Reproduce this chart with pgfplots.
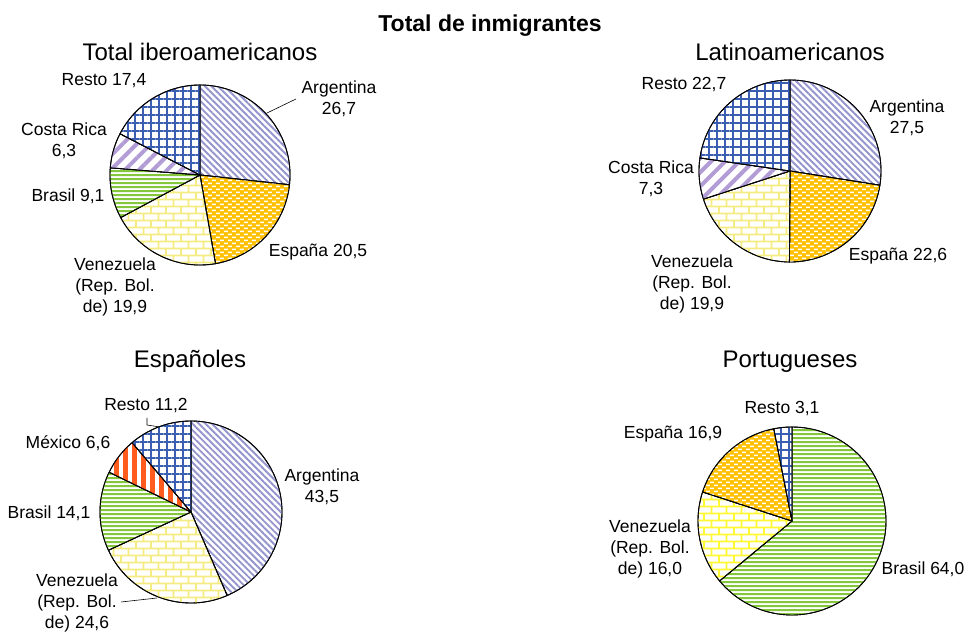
\documentclass[border=0pt]{standalone}
\usepackage{pgfplots}
\pgfplotsset{compat=1.18}
\usepackage{fontspec}
\setmainfont{Liberation Sans}
\usetikzlibrary{patterns,patterns.meta}

\definecolor{argc}{RGB}{148,148,206}
\definecolor{espbg}{RGB}{255,192,0}
\definecolor{venc}{RGB}{244,236,130}
\definecolor{venc2}{RGB}{255,248,50}
\definecolor{brac}{RGB}{132,198,60}
\definecolor{crc}{RGB}{178,156,214}
\definecolor{restoc}{RGB}{58,94,178}
\definecolor{mexc}{RGB}{255,92,30}

\tikzdeclarepattern{
  name=ExcelBricks, type=uncolored,
  bottom left={(0pt,0pt)}, top right={(15pt,14pt)}, tile size={(15pt,14pt)},
  code={
    \draw[line width=1.6pt] (0pt,1.5pt) -- (15pt,1.5pt) (0pt,8.5pt) -- (15pt,8.5pt)
      (2pt,1.5pt) -- (2pt,8.5pt) (9.5pt,8.5pt) -- (9.5pt,14pt) (9.5pt,0pt) -- (9.5pt,1.5pt);
  }
}
\tikzdeclarepattern{
  name=ExcelDash, type=uncolored,
  bottom left={(0pt,0pt)}, top right={(8pt,6pt)}, tile size={(8pt,6pt)},
  code={
    \fill (1pt,1pt) rectangle (5pt,2.5pt) (5pt,4pt) rectangle (8pt,5.5pt) (0pt,4pt) rectangle (1pt,5.5pt);
  }
}

% \piestart{total}{cx}{cy}{R}  (cy in picture pixels, downwards)
\newcommand\piestart[4]{\gdef\cumul{0}\gdef\total{#1}\gdef\pcx{#2}\gdef\pcy{-#3}\gdef\pR{#4}}
\newcommand\slice[4]{%
  \pgfmathsetmacro\sa{\cumul}%
  \pgfmathsetmacro\sb{\cumul+#1}%
  \xdef\cumul{\sb}%
  \edef\doslice{\noexpand\addplot[draw=black, line width=0.9pt, line join=round,
     preaction={fill=#2}, pattern={#3}, pattern color=#4,
     domain=\sa:\sb, samples=90, variable=\noexpand\t]
     ({\pcx+\pR*sin(360*\noexpand\t/\total)}, {\pcy+\pR*cos(360*\noexpand\t/\total)}) -- (axis cs:\pcx,\pcy) -- cycle;}%
  \doslice
}
\def\PArg{Lines[angle=-45,distance=4.6pt,line width=1.9pt]}
\def\PEsp{ExcelDash}
\def\PVen{ExcelBricks}
\def\PBra{Lines[angle=0,distance=4pt,line width=2pt]}
\def\PCR{Lines[angle=45,distance=10pt,line width=4pt]}
\def\PRes{Hatch[angle=0,distance=8pt,line width=2pt]}
\def\PMex{Lines[angle=90,distance=9pt,line width=4.5pt]}

\newcommand\lab{\fontsize{17.5bp}{21bp}\selectfont}
\newcommand\sub{\fontsize{24bp}{28bp}\selectfont}

\begin{document}
\begin{tikzpicture}
\begin{axis}[at={(0,0)}, anchor=south west, x=1bp, y=1bp,
  xmin=0, xmax=970, ymin=-633, ymax=0, hide axis, clip=false]
% Total iberoamericanos
\piestart{99.9}{200}{175}{90}
\slice{26.7}{white}{\PArg}{argc}
\slice{20.5}{espbg}{\PEsp}{white}
\slice{19.9}{white}{\PVen}{venc}
\slice{9.1}{white}{\PBra}{brac}
\slice{6.3}{white}{\PCR}{crc}
\slice{17.4}{white}{\PRes}{restoc}
% Latinoamericanos
\piestart{100}{790}{171}{91}
\slice{27.5}{white}{\PArg}{argc}
\slice{22.6}{espbg}{\PEsp}{white}
\slice{19.9}{white}{\PVen}{venc}
\slice{7.3}{white}{\PCR}{crc}
\slice{22.7}{white}{\PRes}{restoc}
% Espanoles
\piestart{100}{191}{512}{91}
\slice{43.5}{white}{\PArg}{argc}
\slice{24.6}{white}{\PVen}{venc}
\slice{14.1}{white}{\PBra}{brac}
\slice{6.6}{white}{\PMex}{mexc}
\slice{11.2}{white}{\PRes}{restoc}
% Portugueses
\piestart{100}{792}{521}{94}
\slice{64.0}{white}{\PBra}{brac}
\slice{16.0}{white}{\PVen}{venc2}
\slice{16.9}{espbg}{\PEsp}{white}
\slice{3.1}{white}{\PRes}{restoc}

% titles
\node[anchor=base, font=\fontsize{23bp}{27bp}\selectfont\bfseries] at (490,-32) {Total de inmigrantes};
\node[anchor=base, font=\sub] at (200,-61) {Total iberoamericanos};
\node[anchor=base, font=\sub] at (790,-61) {Latinoamericanos};
\node[anchor=base, font=\sub] at (190,-367) {Españoles};
\node[anchor=base, font=\sub] at (790,-367) {Portugueses};

\begin{scope}[every node/.style={anchor=base, font=\lab, inner sep=0pt}]
% Total iberoamericanos
\node at (104,-86) {Resto 17,4};
\node at (339,-94) {Argentina};
\node at (339,-115) {26,7};
\draw[line width=0.6pt] (267,-113) -- (296,-99);
\node at (318,-256) {España 20,5};
\node at (115,-270) {Venezuela};
\node at (115,-291) {(Rep. Bol.};
\node at (115,-312) {de) 19,9};
\node at (68,-202) {Brasil 9,1};
\node at (64,-136) {Costa Rica};
\node at (64,-157) {6,3};
% Latinoamericanos
\node at (684,-90) {Resto 22,7};
\node at (907,-113) {Argentina};
\node at (907,-134) {27,5};
\node at (898,-260) {España 22,6};
\node at (651,-174) {Costa Rica};
\node at (651,-195) {7,3};
\node at (692,-267) {Venezuela};
\node at (692,-288) {(Rep. Bol.};
\node at (692,-309) {de) 19,9};
% Espanoles
\node at (146,-410) {Resto 11,2};
\draw[line width=0.6pt] (147,-418) -- (147,-425) -- (160,-427);
\node at (68,-448) {México 6,6};
\node at (49,-518) {Brasil 14,1};
\node at (322,-481) {Argentina};
\node at (322,-502) {43,5};
\node at (77,-586) {Venezuela};
\node at (77,-607) {(Rep. Bol.};
\node at (77,-628) {de) 24,6};
\draw[line width=0.6pt] (121,-602) -- (157,-598);
% Portugueses
\node at (782,-413) {Resto 3,1};
\node at (673,-438) {España 16,9};
\node at (650,-532) {Venezuela};
\node at (650,-553) {(Rep. Bol.};
\node at (650,-574) {de) 16,0};
\node at (923,-574) {Brasil 64,0};
\end{scope}
\end{axis}
\pgfresetboundingbox
\path[use as bounding box] (0,0) rectangle (970bp,633bp);
\end{tikzpicture}
\end{document}
